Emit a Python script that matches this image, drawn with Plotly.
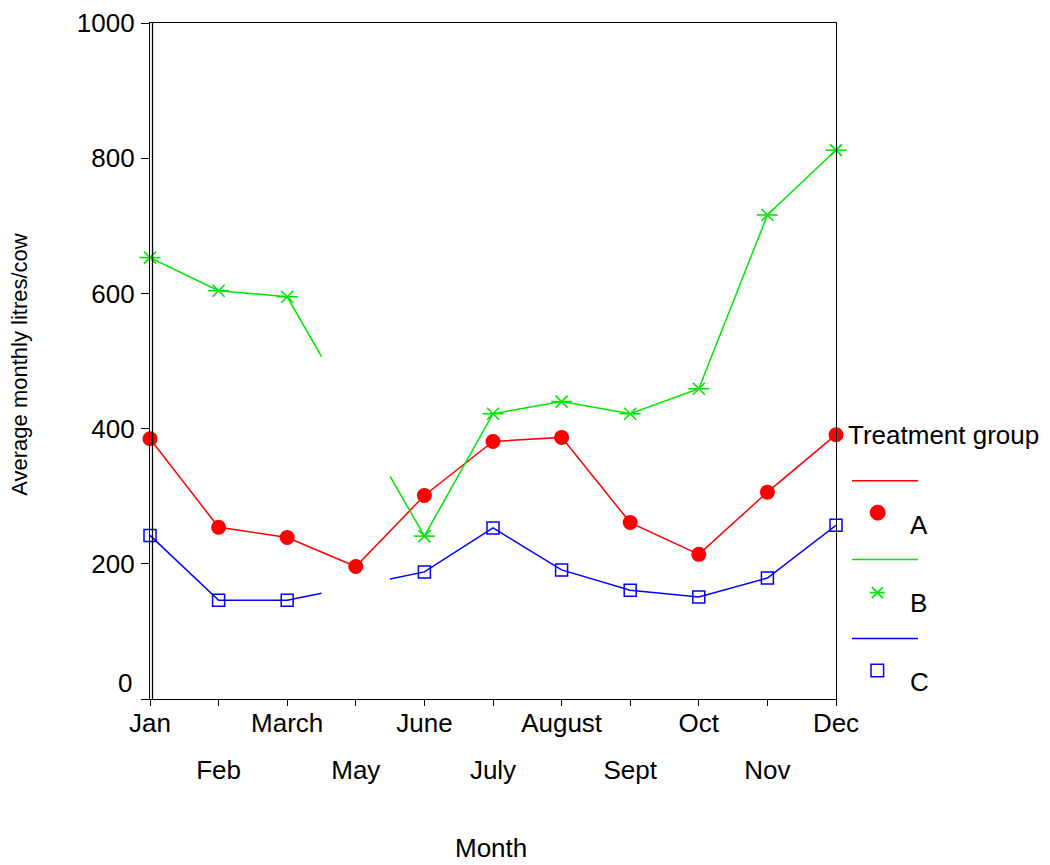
import plotly.graph_objects as go

# ---------------- data ----------------
months = ["Jan", "Feb", "March", "May", "June", "July", "August", "Sept", "Oct", "Nov", "Dec"]
group_a = [385, 254, 239, 196, 301, 381, 387, 261, 214, 306, 391]
group_b = [653, 604, 595, None, 241, 422, 440, 422, 459, 716, 812]
group_c = [242, 146, 146, None, 188, 253, 191, 161, 151, 179, 257]
y_ticks = [0, 200, 400, 600, 800, 1000]
group_names = ["A", "B", "C"]

RED = "#ff0000"
GREEN = "#00e600"
BLUE = "#0000ff"
FONT = "Liberation Sans, Arial, sans-serif"

# page offset of the figure inside the browser page (body margin)
OX, OY = 8, 8
W, H = 1050 - OX, 865 - OY
PLOT_L, PLOT_R, PLOT_T, PLOT_B = 150, 836, 23, 699.5   # page pixels
L = PLOT_L - OX
T = PLOT_T - OY
PW = PLOT_R - PLOT_L
PH = PLOT_B - PLOT_T
R = W - L - PW
B = H - T - PH


def px(x):
    return (x - PLOT_L) / PW


def py(y):
    return (PLOT_B - y) / PH


def line_path(vals):
    """Line through the values; a missing month is bridged only halfway
    from each side toward the interpolated value (as in the original)."""
    xs, ys = [], []
    for i, v in enumerate(vals):
        if v is None:
            prev, nxt = vals[i - 1], vals[i + 1]
            mid = (prev + nxt) / 2
            xs += [i - 0.5, None, i + 0.5]
            ys += [(prev + mid) / 2, None, (mid + nxt) / 2]
        else:
            xs.append(i)
            ys.append(v)
    return xs, ys


idx = list(range(len(months)))
fig = go.Figure()

# Group A
fig.add_trace(go.Scatter(x=idx, y=group_a, mode="lines+markers", name="A",
                         line=dict(color=RED, width=1.5),
                         marker=dict(symbol="circle", size=15, color=RED),
                         cliponaxis=False, showlegend=False))

# Group B
bx, by = line_path(group_b)
fig.add_trace(go.Scatter(x=bx, y=by, mode="lines", line=dict(color=GREEN, width=1.5),
                         connectgaps=False, cliponaxis=False, showlegend=False))
fig.add_trace(go.Scatter(x=idx, y=group_b, mode="markers", name="B",
                         marker=dict(symbol="x-thin-open", size=12, color=GREEN,
                                     line=dict(color=GREEN, width=1.6)),
                         cliponaxis=False, showlegend=False))
fig.add_trace(go.Scatter(x=idx, y=group_b, mode="markers", name="B",
                         marker=dict(symbol="line-ew-open", size=15, color=GREEN,
                                     line=dict(color=GREEN, width=1.6)),
                         cliponaxis=False, showlegend=False))

# Group C
cx, cy = line_path(group_c)
fig.add_trace(go.Scatter(x=cx, y=cy, mode="lines", line=dict(color=BLUE, width=1.5),
                         connectgaps=False, cliponaxis=False, showlegend=False))
fig.add_trace(go.Scatter(x=idx, y=group_c, mode="markers", name="C",
                         marker=dict(symbol="square-open", size=12, color=BLUE,
                                     line=dict(color=BLUE, width=1.5)),
                         cliponaxis=False, showlegend=False))

# empty trace so the second (label-only) x axis is rendered
fig.add_trace(go.Scatter(x=[], y=[], xaxis="x2", yaxis="y", showlegend=False,
                         hoverinfo="skip"))

odd_vals = [i for i in idx if i % 2 == 1]

fig.update_layout(
    width=W, height=H,
    margin=dict(l=L, r=R, t=T, b=B, autoexpand=False),
    paper_bgcolor="white", plot_bgcolor="white",
    font=dict(family=FONT, size=26, color="black"),
    showlegend=False,
    xaxis=dict(range=[0, len(months) - 1], tickvals=idx,
               ticktext=[m if i % 2 == 0 else "" for i, m in enumerate(months)],
               ticks="outside", ticklen=6, tickwidth=1.3, tickcolor="black",
               showline=True, linecolor="black", linewidth=1.3, mirror=True,
               showgrid=False, zeroline=False, ticklabelstandoff=-5,
               ticklabeloverflow="allow", tickfont=dict(size=26)),
    xaxis2=dict(range=[0, len(months) - 1], overlaying="x", anchor="y", side="bottom",
                tickvals=odd_vals, ticktext=[months[i] for i in odd_vals],
                ticks="outside", ticklen=6, tickcolor="rgba(0,0,0,0)",
                ticklabelstandoff=42, ticklabeloverflow="allow",
                showline=False, showgrid=False, zeroline=False,
                tickfont=dict(size=26)),
    yaxis=dict(range=[0, 1000], tickvals=y_ticks,
               ticktext=["" if v == 0 else str(v) for v in y_ticks],
               ticks="outside", ticklen=8, tickwidth=1.3, tickcolor="black",
               showline=True, linecolor="black", linewidth=1.3, mirror=True,
               showgrid=False, zeroline=False, ticklabelstandoff=1,
               ticklabeloverflow="allow", tickfont=dict(size=26)),
)

shapes = []
# double left axis line
shapes.append(dict(type="line", xref="paper", yref="paper",
                   x0=px(152.5), x1=px(152.5), y0=0, y1=1,
                   line=dict(color="black", width=1.3)))

# ---------- legend (SPSS style) ----------
leg_rows = [(481, 513, 525, RED), (560, 593, 603, GREEN), (639, 671, 682, BLUE)]
for (ly, my, ty, col), name in zip(leg_rows, group_names):
    shapes.append(dict(type="line", xref="paper", yref="paper",
                       x0=px(852), x1=px(918), y0=py(ly), y1=py(ly),
                       line=dict(color=col, width=1.5)))
# A: filled circle
shapes.append(dict(type="circle", xref="paper", yref="paper",
                   x0=px(877.7 - 7.5), x1=px(877.7 + 7.5),
                   y0=py(513 + 7.5), y1=py(513 - 7.5),
                   fillcolor=RED, line=dict(color=RED, width=1)))
# B: asterisk (horizontal + X)
cxp, cyp = 877.3, 593
for dx, dy in [(7.5, 0), (5.5, 5.5), (5.5, -5.5)]:
    shapes.append(dict(type="line", xref="paper", yref="paper",
                       x0=px(cxp - dx), x1=px(cxp + dx),
                       y0=py(cyp - dy), y1=py(cyp + dy),
                       line=dict(color=GREEN, width=1.6)))
# C: open square
shapes.append(dict(type="rect", xref="paper", yref="paper",
                   x0=px(877.3 - 6.3), x1=px(877.3 + 6.3),
                   y0=py(671 + 6.3), y1=py(671 - 6.3),
                   line=dict(color=BLUE, width=1.5), fillcolor="rgba(0,0,0,0)"))
fig.update_layout(shapes=shapes)

annotations = [
    dict(text="0", xref="paper", yref="paper", x=px(134), y=py(683),
         xanchor="right", yanchor="middle", showarrow=False, font=dict(size=26)),
    dict(text="Treatment group", xref="paper", yref="paper", x=px(846), y=py(435),
         xanchor="left", yanchor="middle", showarrow=False, font=dict(size=26)),
    dict(text="Month", xref="paper", yref="paper", x=px(491), y=py(849),
         xanchor="center", yanchor="middle", showarrow=False, font=dict(size=26)),
    dict(text="Average monthly litres/cow", xref="paper", yref="paper", x=px(20), y=py(365),
         xanchor="center", yanchor="middle", textangle=-90, showarrow=False,
         font=dict(size=22)),
]
for (ly, my, ty, col), name in zip(leg_rows, group_names):
    annotations.append(dict(text=name, xref="paper", yref="paper", x=px(908), y=py(ty),
                            xanchor="left", yanchor="middle", showarrow=False,
                            font=dict(size=26)))
fig.update_layout(annotations=annotations)

fig.write_html("out.html")
